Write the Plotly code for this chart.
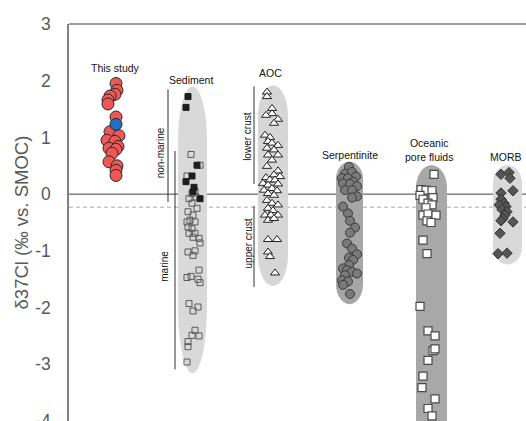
import plotly.graph_objects as go

# ---------------- data ----------------
# horizontal positions are jitter positions on an arbitrary (tick-less) axis
study_x = [4.7, 4.8, 4.6, 4.1, 3.9, 3.9, 4.7, 4.1, 5.0, 3.8, 4.6, 4.9, 4.0, 4.7, 4.3, 4.0, 4.8, 4.7, 4.7]
study_y = [1.95, 1.83, 1.76, 1.73, 1.66, 1.59, 1.36, 1.10, 1.03, 0.95, 0.93, 0.84, 0.81, 0.79, 0.72, 0.57, 0.50, 0.42, 0.33]
study_blue_x = [4.7]
study_blue_y = [1.23]

sed_nonmarine_x = [11.9, 11.7, 12.8, 12.3, 11.7, 12.5, 12.4, 13.1]
sed_nonmarine_y = [1.72, 1.53, 0.51, 0.32, 0.22, 0.12, 0.04, -0.08]

sed_marine_x = [12.2, 13.1, 11.8, 12.6, 12.3, 12.7, 12.0, 12.3, 12.8, 11.9, 12.4, 12.1, 12.6,
                11.8, 11.9, 12.3, 12.0, 12.6, 12.4, 13.0, 13.1, 12.6, 11.9, 12.4, 13.0, 12.2,
                11.8, 12.9, 13.1, 12.0, 12.9, 12.4, 12.6, 12.3, 13.0, 11.9, 11.9, 11.8]
sed_marine_y = [0.70, 0.51, 0.32, 0.05, 0.01, -0.05, -0.08, -0.16, -0.25, -0.31, -0.37, -0.46, -0.49,
                -0.49, -0.58, -0.61, -0.69, -0.69, -0.76, -0.78, -0.86, -1.00, -1.02, -1.08, -1.34, -1.45,
                -1.47, -1.50, -1.56, -1.93, -1.99, -2.06, -2.40, -2.49, -2.50, -2.60, -2.69, -2.96]

aoc_x = [19.8, 19.8, 20.3, 20.3, 19.7, 20.9, 20.5, 19.6, 20.1, 19.9, 20.3, 20.9, 19.8, 20.5, 19.9, 20.9,
         20.3, 19.8, 20.9, 20.5, 19.7, 21.1, 20.1, 20.6, 19.4, 19.9, 20.9, 20.3, 19.5, 20.8, 19.9, 20.5,
         19.8, 20.3, 20.9, 19.9, 20.4, 19.6, 20.2, 20.9, 19.9, 20.5, 19.9, 20.8, 19.9, 20.1, 20.6]
aoc_y = [1.80, 1.72, 1.51, 1.42, 1.39, 1.32, 1.25, 1.04, 1.00, 0.93, 0.90, 0.86, 0.81, 0.78, 0.69, 0.69,
         0.60, 0.49, 0.41, 0.34, 0.29, 0.31, 0.25, 0.25, 0.19, 0.16, 0.18, 0.10, 0.07, 0.06, 0.01, -0.02,
         -0.11, -0.16, -0.19, -0.25, -0.29, -0.37, -0.37, -0.37, -0.46, -0.43, -0.80, -0.80, -1.02, -1.10, -1.39]

serp_x = [28.0, 27.6, 28.3, 28.7, 27.3, 27.9, 28.4, 27.4, 28.1, 28.8, 27.6, 28.3, 28.8, 28.3, 27.4, 27.9,
          28.1, 28.6, 28.1, 27.8, 28.3, 28.8, 28.0, 28.4, 28.0, 27.4, 27.8, 28.3, 28.8, 27.6, 27.3, 27.9,
          27.4, 28.1]
serp_y = [0.48, 0.36, 0.39, 0.31, 0.28, 0.28, 0.22, 0.19, 0.18, 0.14, 0.07, 0.07, -0.04, -0.06, -0.22, -0.34,
          -0.47, -0.59, -0.68, -0.87, -0.96, -1.06, -1.12, -1.16, -1.25, -1.31, -1.34, -1.37, -1.40, -1.43, -1.52, -1.54,
          -1.60, -1.76]

pore_x = [36.5, 35.2, 35.7, 36.3, 35.1, 36.4, 35.4, 35.9, 36.3, 35.7, 35.4, 35.9, 36.7, 35.8, 36.2,
          35.4, 35.8, 35.1, 35.9, 36.6, 36.4, 36.6, 35.9, 35.4, 35.3, 36.6, 35.9, 36.3]
pore_y = [0.35, 0.08, 0.07, 0.06, -0.02, -0.06, -0.09, -0.16, -0.19, -0.24, -0.37, -0.35, -0.37, -0.47, -0.50,
          -0.81, -1.05, -1.98, -2.41, -2.50, -2.76, -2.73, -2.93, -3.21, -3.41, -3.61, -3.78, -3.91]

morb_x = [43.2, 44.0, 44.1, 43.2, 44.4, 43.2, 43.5, 43.0, 43.7, 43.3, 43.8, 43.6, 43.4, 43.2, 44.4, 43.1, 42.9, 43.8]
morb_y = [0.35, 0.38, 0.28, 0.02, 0.06, -0.09, -0.16, -0.19, -0.22, -0.27, -0.31, -0.37, -0.43, -0.47, -0.49, -0.69, -1.05, -1.04]

# group labels
group_names = ["This study", "Sediment", "AOC", "Serpentinite", "Oceanic<br>pore fluids", "MORB"]
group_label_x = [4.6, 12.2, 20.1, 28.1, 36.0, 43.7]
group_label_y = [2.22, 2.01, 2.13, 0.69, 0.77, 0.65]

# shaded envelopes: left, right, bottom, top
env_x0 = [10.9, 18.9, 26.7, 34.7, 42.4]
env_x1 = [13.8, 21.9, 29.4, 37.8, 45.3]
env_y0 = [-3.16, -1.62, -1.94, -5.0, -1.24]
env_y1 = [1.90, 1.92, 0.57, 0.51, 0.51]
env_fill = ["#d9d9d9", "#d6d6d6", "#a6a6a6", "#a8a8a8", "#d9d9d9"]
env_cap_top = [0.95, 0.55, 0.30, 0.40, 0.30]
env_cap_bot = [1.20, 0.55, 0.35, 0.40, 0.30]

seawater_ref = -0.23
y_ticks = [3, 2, 1, 0, -1, -2, -3, -4]

# ---------------- figure ----------------
fig = go.Figure()

FONT = "Liberation Sans, Arial, sans-serif"


def capsule(x0, x1, y0, y1, ct, cb):
    cx = (x0 + x1) / 2
    hw = (x1 - x0) / 2
    k = 0.5523
    return (f"M {x0},{y1 - ct} C {x0},{y1 - ct + k * ct} {cx - k * hw},{y1} {cx},{y1} "
            f"C {cx + k * hw},{y1} {x1},{y1 - ct + k * ct} {x1},{y1 - ct} "
            f"L {x1},{y0 + cb} C {x1},{y0 + cb - k * cb} {cx + k * hw},{y0} {cx},{y0} "
            f"C {cx - k * hw},{y0} {x0},{y0 + cb - k * cb} {x0},{y0 + cb} Z")


shapes = []
for i in range(len(env_x0)):
    shapes.append(dict(type="path", xref="x", yref="y", layer="below",
                       path=capsule(env_x0[i], env_x1[i], env_y0[i], env_y1[i], env_cap_top[i], env_cap_bot[i]),
                       fillcolor=env_fill[i], line=dict(width=0)))

# reference lines
shapes.append(dict(type="line", xref="paper", yref="y", x0=0, x1=1, y0=0, y1=0,
                   line=dict(color="#404040", width=1), layer="between"))
shapes.append(dict(type="line", xref="paper", yref="y", x0=0, x1=1, y0=seawater_ref, y1=seawater_ref,
                   line=dict(color="#a8a8a8", width=1, dash="4px,3px"), layer="between"))
# top frame line
shapes.append(dict(type="line", xref="paper", yref="paper", x0=0, x1=1, y0=1, y1=1,
                   line=dict(color="#808080", width=1.5), layer="above"))

# bracket lines for sub-groups
bracket_x = [9.9, 10.6, 18.5, 18.5]
bracket_y0 = [-0.14, -3.09, 0.18, -1.64]
bracket_y1 = [1.85, 0.76, 1.90, -0.21]
for bx, b0, b1 in zip(bracket_x, bracket_y0, bracket_y1):
    shapes.append(dict(type="line", xref="x", yref="y", x0=bx, x1=bx, y0=b0, y1=b1,
                       line=dict(color="#303030", width=1), layer="between"))

fig.update_layout(shapes=shapes)

# traces
fig.add_trace(go.Scatter(x=study_x, y=study_y, mode="markers",
                         marker=dict(symbol="circle", size=12, color="#f05757",
                                     line=dict(color="#2a2a2a", width=1))))
fig.add_trace(go.Scatter(x=study_blue_x, y=study_blue_y, mode="markers",
                         marker=dict(symbol="circle", size=12, color="#1f6fc5",
                                     line=dict(color="#2a2a2a", width=1))))
fig.add_trace(go.Scatter(x=sed_marine_x, y=sed_marine_y, mode="markers",
                         marker=dict(symbol="square-open", size=6, color="#5a5a5a",
                                     line=dict(width=1))))
fig.add_trace(go.Scatter(x=sed_nonmarine_x, y=sed_nonmarine_y, mode="markers",
                         marker=dict(symbol="square", size=6, color="#1e1e1e",
                                     line=dict(color="#1e1e1e", width=1))))
fig.add_trace(go.Scatter(x=aoc_x, y=aoc_y, mode="markers",
                         marker=dict(symbol="triangle-up", size=8, color="#ffffff",
                                     line=dict(color="#222222", width=1))))
fig.add_trace(go.Scatter(x=serp_x, y=serp_y, mode="markers",
                         marker=dict(symbol="circle", size=9, color="#7a7a7a",
                                     line=dict(color="#3a3a3a", width=1))))
fig.add_trace(go.Scatter(x=pore_x, y=pore_y, mode="markers",
                         marker=dict(symbol="square", size=8, color="#ffffff",
                                     line=dict(color="#4a4a4a", width=1.2))))
fig.add_trace(go.Scatter(x=morb_x, y=morb_y, mode="markers",
                         marker=dict(symbol="diamond", size=8, color="#555555",
                                     line=dict(color="#333333", width=1))))

annotations = []
for name, gx, gy in zip(group_names, group_label_x, group_label_y):
    annotations.append(dict(x=gx, y=gy, xref="x", yref="y", text=name, showarrow=False,
                            font=dict(family=FONT, size=10.5, color="#111111"),
                            xanchor="center", yanchor="middle"))

sub_names = ["non-marine", "marine", "lower crust", "upper crust"]
sub_x = [9.1, 9.6, 17.9, 17.9]
sub_y = [0.72, -1.28, 1.01, -0.87]
for name, sx, sy in zip(sub_names, sub_x, sub_y):
    annotations.append(dict(x=sx, y=sy, xref="x", yref="y", text=name, showarrow=False, textangle=-90,
                            font=dict(family=FONT, size=10, color="#111111"),
                            xanchor="center", yanchor="middle"))

annotations.append(dict(x=-0.103, y=0.5, xref="paper", yref="paper", text="δ37Cl (‰ vs. SMOC)",
                        showarrow=False, textangle=-90, xanchor="center", yanchor="middle",
                        font=dict(family=FONT, size=18.5, color="#595959")))

fig.update_layout(
    width=526, height=421,
    margin=dict(l=69, r=0, t=24, b=0, pad=0, autoexpand=False),
    paper_bgcolor="white", plot_bgcolor="white",
    showlegend=False,
    annotations=annotations,
    xaxis=dict(range=[0, 45.7], showgrid=False, zeroline=False, showticklabels=False,
               ticks="", showline=False, fixedrange=True, automargin=False),
    yaxis=dict(range=[-4.0, 3], tickvals=y_ticks, ticktext=[str(v) for v in y_ticks],
               showgrid=False, zeroline=False, showline=True, linecolor="#808080", linewidth=1.5,
               ticks="outside", ticklen=13, tickcolor="rgba(0,0,0,0)", ticklabeloverflow="allow",
               automargin=False,
               tickfont=dict(family=FONT, size=17.5, color="#595959")),
)

# remove the default page margin / scrollbars so the figure fills the window exactly
fig.write_html("out.html", config={"displayModeBar": False},
               post_script="document.body.style.margin='0';document.body.style.overflow='hidden';")
